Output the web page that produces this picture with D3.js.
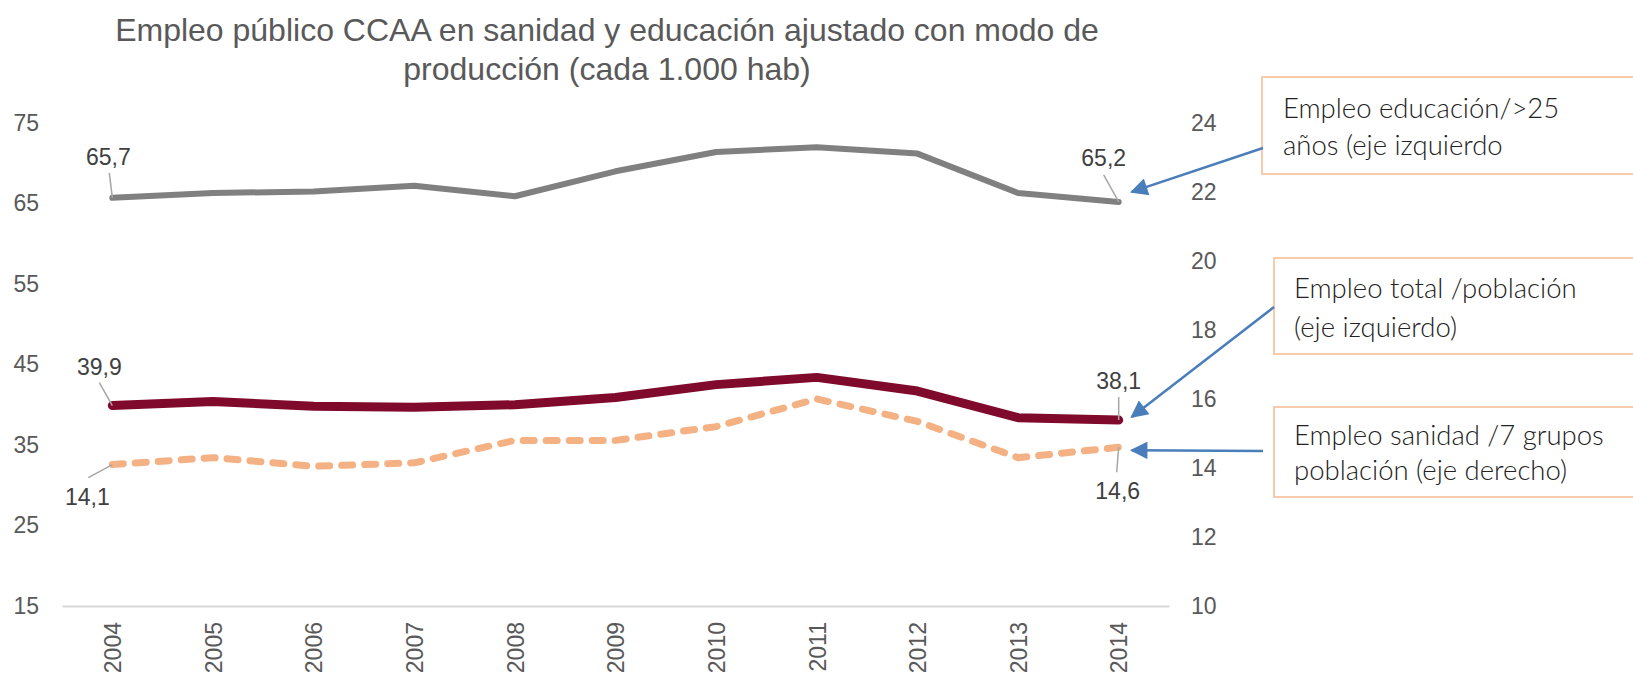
<!DOCTYPE html>
<html>
<head>
<meta charset="utf-8">
<script src="https://cdn.jsdelivr.net/npm/d3@7"></script>
<style>
    body { margin: 0; background: #fff; }
    svg { display: block; }
    text { font-family: "Liberation Sans", Arial, sans-serif; }
</style>
</head>
<body>
<svg></svg>
<script>
// data
const years = ["2004", "2005", "2006", "2007", "2008", "2009", "2010", "2011", "2012", "2013", "2014"]
const educacion = [65.7, 66.3, 66.5, 67.2, 65.9, 69.0, 71.4, 72.0, 71.2, 66.3, 65.2]
const total = [39.9, 40.4, 39.8, 39.7, 40.0, 40.9, 42.5, 43.4, 41.7, 38.4, 38.1]
const sanidad = [14.1, 14.3, 14.05, 14.15, 14.8, 14.8, 15.2, 16.0, 15.35, 14.3, 14.6]

const leftTicks = [15, 25, 35, 45, 55, 65, 75]
const rightTicks = [10, 12, 14, 16, 18, 20, 22, 24]

const titleLines = ["Empleo público CCAA en sanidad y educación ajustado con modo de", "producción (cada 1.000 hab)"]
const calloutText = [
    ["Empleo educación/>25", "años (eje izquierdo"],
    ["Empleo total /población", "(eje izquierdo)"],
    ["Empleo sanidad /7 grupos", "población (eje derecho)"]
]

const W = 1633, H = 674
const svg = d3.select("svg")
    .attr("width", W)
    .attr("height", H)

const x = d3.scalePoint()
    .domain(years)
    .range([62, 1169])
    .padding(0.5)

const yLeft = d3.scaleLinear()
    .domain([15, 75])
    .range([606, 123])

const yRight = d3.scaleLinear()
    .domain([10, 24])
    .range([606, 123])

// title
svg.append("g")
    .selectAll("text")
    .data(titleLines)
    .enter()
    .append("text")
    .attr("x", 607)
    .attr("y", (d, i) => 41 + i * 39)
    .attr("text-anchor", "middle")
    .attr("font-size", 32)
    .attr("fill", "#595959")
    .text(d => d)

// axes
const gLeft = svg.append("g")
    .attr("transform", "translate(39,0)")
    .call(d3.axisLeft(yLeft).tickValues(leftTicks).tickSize(0).tickPadding(0))
gLeft.select(".domain").remove()

const gRight = svg.append("g")
    .attr("transform", "translate(1191,0)")
    .call(d3.axisRight(yRight).tickValues(rightTicks).tickSize(0).tickPadding(0))
gRight.select(".domain").remove()

const gBottom = svg.append("g")
    .attr("transform", "translate(0,606)")
    .call(d3.axisBottom(x).tickSize(0).tickSizeOuter(0))
gBottom.select(".domain")
    .attr("stroke", "#D9D9D9")
    .attr("stroke-width", 2)
gBottom.selectAll("text")
    .attr("transform", "rotate(-90)")
    .attr("text-anchor", "end")
    .attr("x", -16)
    .attr("y", 0)
    .attr("dy", "0.36em")

svg.selectAll(".tick text")
    .style("font-family", "\"Liberation Sans\", Arial, sans-serif")
    .attr("font-size", 23)
    .attr("fill", "#595959")

// lines
const series = [
    {values: educacion, scale: yLeft, color: "#808080", width: 6, dash: null},
    {values: total, scale: yLeft, color: "#800A2B", width: 9, dash: null},
    {values: sanidad, scale: yRight, color: "#F4B183", width: 7, dash: "11,12"}
]

series.forEach((s) => {
    const line = d3.line()
        .x((d, i) => x(years[i]))
        .y(d => s.scale(d))
    svg.append("path")
        .datum(s.values)
        .attr("d", line)
        .attr("fill", "none")
        .attr("stroke", s.color)
        .attr("stroke-width", s.width)
        .attr("stroke-linejoin", "round")
        .attr("stroke-linecap", "round")
        .attr("stroke-dasharray", s.dash)
})

// end point labels with leader lines
// [series index, point index, label dx, label dy, leader dx, leader dy]
const pointLabels = [
    [0, 0, -4, -41, -3, -25],
    [1, 0, -13, -39, -13, -23],
    [2, 0, -25, 32, -24, 13],
    [0, 10, -15, -44, -15, -27],
    [1, 10, 0, -39, 0, -23],
    [2, 10, -1, 44, -2, 25]
]

pointLabels.forEach((p) => {
    const s = series[p[0]]
    const v = s.values[p[1]]
    const px = x(years[p[1]])
    const py = s.scale(v)
    svg.append("line")
        .attr("x1", px + p[4])
        .attr("y1", py + p[5])
        .attr("x2", px)
        .attr("y2", py)
        .attr("stroke", "#A6A6A6")
        .attr("stroke-width", 1.5)
    svg.append("text")
        .attr("x", px + p[2])
        .attr("y", py + p[3])
        .attr("dy", "0.35em")
        .attr("text-anchor", "middle")
        .attr("font-size", 23)
        .attr("fill", "#404040")
        .text(d3.format(".1f")(v).replace(".", ","))
})

// callout boxes and arrows
const boxes = [
    {x: 1262, y: 77, h: 97, tx: 1283, ly: [108, 145], from: [1263, 148], tipDy: -10},
    {x: 1274, y: 258, h: 96, tx: 1294, ly: [288, 327], from: [1274, 307], tipDy: -3},
    {x: 1274, y: 407, h: 90, tx: 1294, ly: [435, 470], from: [1263, 451], tipDy: 3}
]

const defs = svg.append("defs")
defs.append("marker")
    .attr("id", "arrow")
    .attr("viewBox", "0 0 10 10")
    .attr("refX", 9)
    .attr("refY", 5)
    .attr("markerWidth", 8)
    .attr("markerHeight", 7)
    .attr("markerUnits", "strokeWidth")
    .attr("orient", "auto")
    .append("path")
    .attr("d", "M0,0 L10,5 L0,10 z")
    .attr("fill", "#4A7EBB")

boxes.forEach((b, i) => {
    svg.append("rect")
        .attr("x", b.x)
        .attr("y", b.y)
        .attr("width", W - b.x + 10)
        .attr("height", b.h)
        .attr("fill", "#fff")
        .attr("stroke", "#F8CBAD")
        .attr("stroke-width", 2)

    svg.append("g")
        .selectAll("text")
        .data(calloutText[i])
        .enter()
        .append("text")
        .attr("x", b.tx)
        .attr("y", (d, j) => b.ly[j])
        .attr("dy", "0.35em")
        .style("font-family", "Lato, \"Open Sans\", sans-serif")
        .style("font-weight", 300)
        .attr("font-size", 27.5)
        .attr("fill", "#222")
        .text(d => d)

    const s = series[i]
    const last = s.values.length - 1
    svg.append("line")
        .attr("x1", b.from[0])
        .attr("y1", b.from[1])
        .attr("x2", x(years[last]) + 13)
        .attr("y2", s.scale(s.values[last]) + b.tipDy)
        .attr("stroke", "#4A7EBB")
        .attr("stroke-width", 2.5)
        .attr("marker-end", "url(#arrow)")
})
</script>
</body>
</html>
